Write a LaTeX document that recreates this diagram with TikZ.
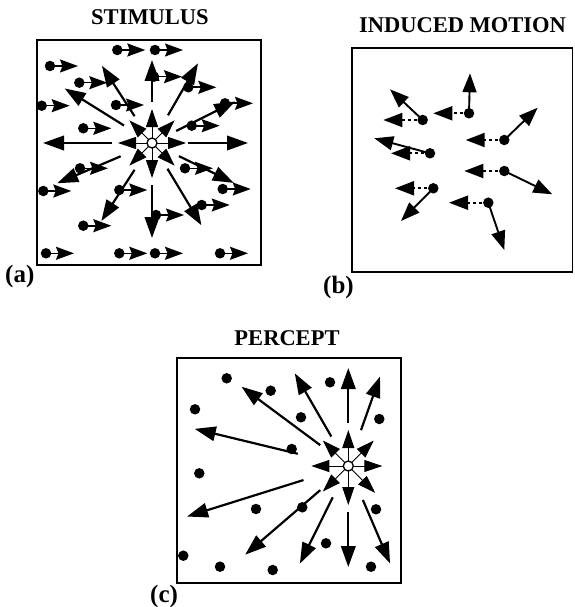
\documentclass[tikz,border=0pt]{standalone}
\usepackage{fontspec}
\setmainfont{Liberation Serif}
\usetikzlibrary{arrows.meta,calc}
\tikzset{
  frame/.style={line width=1.2pt},
  ray/.style={line width=2.2pt,-{Triangle[length=21pt,width=14.5pt]}},
  inray/.style={line width=0.9pt,-{Triangle[length=18pt,width=12pt]}},
  dotm/.style={circle,fill,inner sep=0pt,minimum size=10.5pt},
  hub/.style={circle,draw,fill=white,line width=1.3pt,inner sep=0pt,minimum size=10pt},
  shiftarrow/.style={line width=1.6pt,-{Stealth[length=18pt,width=13pt,inset=2.5pt]}},
  solidarrow/.style={line width=1.9pt,-{Triangle[length=19pt,width=14pt]}},
  dasharrow/.style={line width=1.9pt,dash pattern=on 3pt off 3pt,-{Triangle[length=19pt,width=14pt]}},
  title/.style={font=\bfseries\fontsize{22.5}{26}\selectfont,anchor=base,inner sep=0pt},
  tag/.style={font=\bfseries\fontsize{25}{28}\selectfont,anchor=base west,inner sep=0pt}
}
\begin{document}
\begin{tikzpicture}[x=1pt,y=-1pt]
\useasboundingbox (0,0) rectangle (574,607);

% ---------- titles and tags
\node[title] (ta) at (150,25) {STIMULUS};
\node[title] (tb) at (462.5,33) {INDUCED MOTION};
\node[title] (tc) at (287,345) {PERCEPT};
\node[tag] (la) at (5,282.5) {(a)};
\node[tag] (lb) at (323,293.5) {(b)};
\node[tag] (lc) at (150,602) {(c)};

% ---------- frames
\draw[frame] (37,40) rectangle (261,265);
\draw[frame] (352,48) rectangle (572.5,272);
\draw[frame] (177,358) rectangle (401,583);

% ---------- panel (a): stimulus
\coordinate (ca) at (152,143);
\foreach \a/\ra/\rb in {0/36/96, 26.5/27/93, 60/32/92, 90/41/83, 123/32/92, 148/33/103,
  180/40/109, 203/34/103, 237/32/93, 270/42/95, 301/30/96, 334/30/91}
  \draw[ray] ($(ca)+(-\a:\ra)$) -- ($(ca)+(-\a:\rb)$);
\foreach \a/\r in {0/34, 45/32, 90/34, 135/32, 180/34, 225/32, 270/35, 315/32}
  \draw[inray] ($(ca)+(-\a:5)$) -- ($(ca)+(-\a:\r)$);
\node[hub] (hubA) at (ca) {};

\foreach \n/\x/\y in {1/117.3/50, 2/155/50, 3/50/66, 4/79.3/82.7, 5/154/76.7, 6/188.3/87.3,
  7/41.7/105.7, 8/116/105, 9/225/103.3, 10/83.3/128.3, 11/191.7/125.7, 12/80/168.3,
  13/185/168.3, 14/43.3/191, 15/119.3/190, 16/222.7/189, 17/201.7/205, 18/156/215,
  19/83.3/225.7, 20/46/253.3, 21/119.3/253.3, 22/155/253.3, 23/220/253.3}
{
  \node[dotm] (s\n) at (\x,\y) {};
  \coordinate (se\n) at ($(s\n.center)+(28,0)$);
  \draw[shiftarrow] (s\n.center) -- (se\n);
}

% ---------- panel (b): induced motion
\foreach \n/\x/\y/\sx/\sy/\dx in {1/469/113.3/470/73.3/433.3, 2/422.7/120/390/89.3/383.3,
  3/504.3/140/537.7/107.7/465.7, 4/430/153.3/374.3/138.3/391,
  5/504.3/171/552.3/194.3/464.3, 6/433.3/188.3/401/221/395, 7/488.3/202.7/504.3/250/449}
{
  \node[dotm] (m\n) at (\x,\y) {};
  \coordinate (ms\n) at (\sx,\sy);
  \coordinate (md\n) at (\dx,\y);
  \draw[solidarrow] (m\n.center) -- (ms\n);
  \draw[dasharrow] (m\n.center) -- (md\n);
}

% ---------- panel (c): percept
\coordinate (cc) at (348.3,466);
\foreach \a/\ra/\rb in {90/43/98, 70.5/38/95, 120/34/107, 143.4/35/133, 166.4/52/158,
  197.4/47/169, 220.7/37/136, 243.6/35/109, 270/46/101, 293.2/37/106}
  \draw[ray] ($(cc)+(-\a:\ra)$) -- ($(cc)+(-\a:\rb)$);
\foreach \a/\r in {0/34, 45/36, 90/36, 135/36, 180/37, 225/36, 270/39, 315/38}
  \draw[inray] ($(cc)+(-\a:5)$) -- ($(cc)+(-\a:\r)$);
\node[hub] (hubC) at (cc) {};

\foreach \n/\x/\y in {1/226.7/378.3, 2/270.7/390.7, 3/330/382.3, 4/195/409.3, 5/301/417.3,
  6/379.3/419, 7/291.7/449, 8/199.3/473.3, 9/256/509, 10/302.3/507.3, 11/376/509.3,
  12/326/543.3, 13/183.3/555.7, 14/220/566.7, 15/272.7/570, 16/371/566.7}
  \node[dotm] (p\n) at (\x,\y) {};
\end{tikzpicture}
\end{document}
